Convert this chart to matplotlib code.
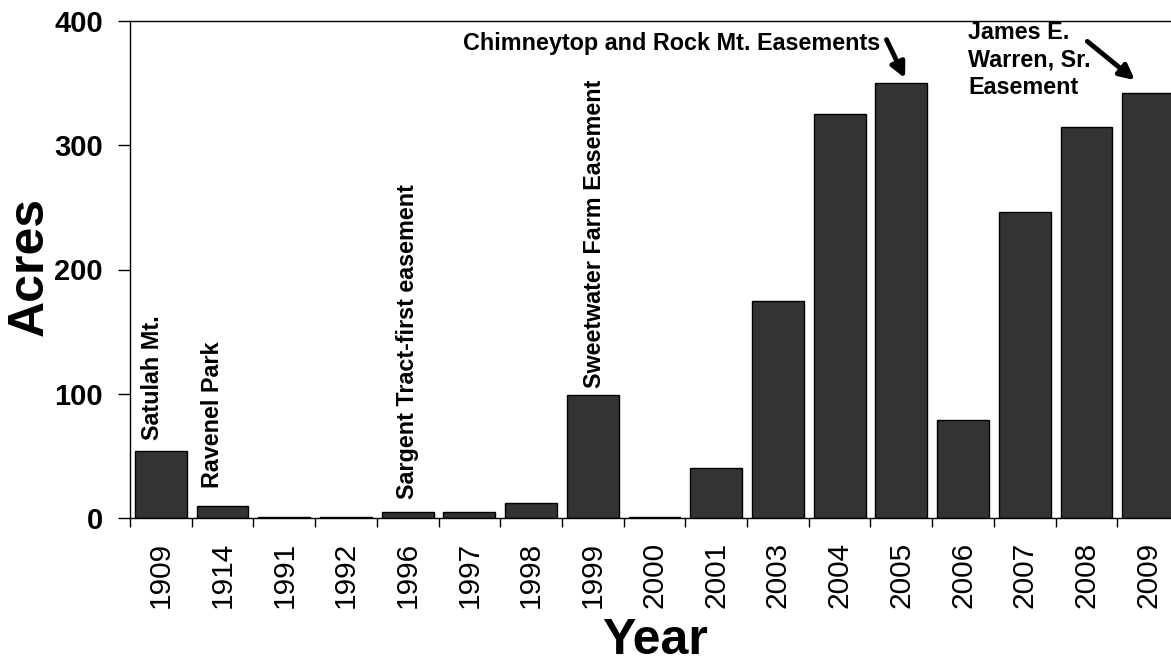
import matplotlib.pyplot as plt
import numpy as np

plt.rcParams['font.family'] = ['Liberation Sans', 'DejaVu Sans']

years = ['1909', '1914', '1991', '1992', '1996', '1997', '1998', '1999', '2000',
         '2001', '2003', '2004', '2005', '2006', '2007', '2008', '2009']
acres = [54, 10, 1, 1, 5, 5, 12, 99, 1, 40, 175, 325, 350, 79, 246, 315, 342]

# rotated labels sitting on top of some bars: (bar index, text, dx pt, dy pt)
bar_notes = [
    (0, 'Satulah Mt.', -6, 8),
    (1, 'Ravenel Park', -7, 13),
    (4, 'Sargent Tract-first easement', 0, 9),
    (7, 'Sweetwater Farm Easement', 1, 5),
]

fig = plt.figure(figsize=(11.71, 6.64), dpi=100)
ax = fig.add_axes([130 / 1171, 146 / 664, 1049 / 1171, 497 / 664])

x = np.arange(len(years))
ax.bar(x, acres, width=0.84, color='#333333', edgecolor='black', linewidth=1)

ax.set_xlim(-0.5, len(years) - 0.5)
ax.set_ylim(0, 400)
ax.set_yticks([0, 100, 200, 300, 400])
for lbl in ax.get_yticklabels():
    lbl.set_fontweight('bold')
ax.tick_params(axis='y', labelsize=21, length=8.5, width=1, pad=11)

ax.set_xticks(x, labels=years, rotation=90)
ax.set_xticks(np.arange(-0.5, len(years), 1), minor=True)
ax.tick_params(axis='x', which='major', length=0, labelsize=21.5, pad=17)
ax.tick_params(axis='x', which='minor', length=6.5, width=1)

for s in ['left', 'bottom', 'top']:
    ax.spines[s].set_linewidth(1)
ax.spines['right'].set_visible(False)

for i, txt, dx, dy in bar_notes:
    ax.annotate(txt, xy=(i, acres[i]), xytext=(dx, dy), textcoords='offset points',
                rotation=90, ha='center', va='bottom', fontsize=16.8, fontweight='bold')

ax.text(11.66, 382, 'Chimneytop and Rock Mt. Easements', ha='right', va='center',
        fontsize=16.8, fontweight='bold')
ax.annotate('', xy=(12.08, 352), xytext=(11.74, 387),
            arrowprops=dict(arrowstyle='-|>', lw=3.5, color='black', mutation_scale=22))

ax.text(13.08, 400, 'James E.\nWarren, Sr.\nEasement', ha='left', va='top',
        fontsize=16.8, fontweight='bold', linespacing=1.25)
ax.annotate('', xy=(15.82, 351), xytext=(14.98, 385),
            arrowprops=dict(arrowstyle='-|>', lw=3.5, color='black', mutation_scale=22))

fig.text(30 / 1171, 1 - 267 / 664, 'Acres', rotation=90, ha='center', va='center',
         fontsize=36, fontweight='bold')
fig.text(655 / 1171, 1 - 641 / 664, 'Year', ha='center', va='center',
         fontsize=36, fontweight='bold')

fig.savefig('out.png', dpi=100)
